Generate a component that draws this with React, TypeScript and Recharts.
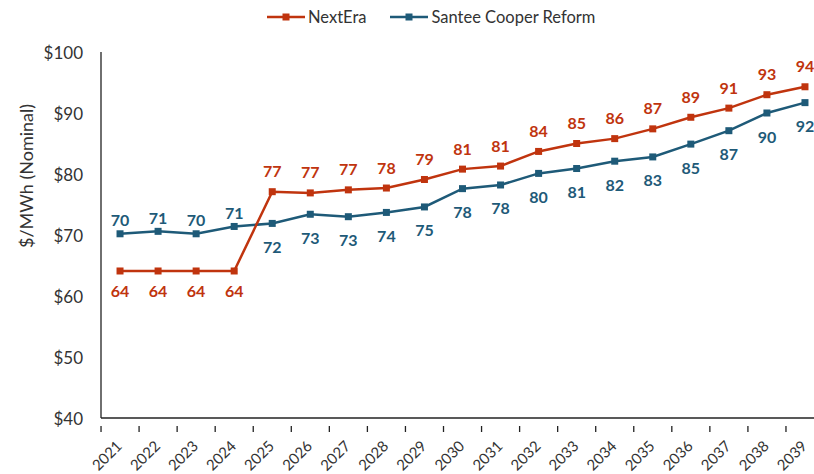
import { LineChart, Line, XAxis, YAxis, LabelList } from 'recharts';

const years = ['2021', '2022', '2023', '2024', '2025', '2026', '2027', '2028', '2029', '2030', '2031', '2032', '2033', '2034', '2035', '2036', '2037', '2038', '2039'];
const nextEra = [64.1, 64.1, 64.1, 64.1, 77.1, 76.9, 77.4, 77.7, 79.1, 80.8, 81.3, 83.7, 85.0, 85.8, 87.4, 89.3, 90.8, 93.0, 94.3];
const santee = [70.2, 70.6, 70.2, 71.4, 71.9, 73.4, 73.0, 73.7, 74.6, 77.6, 78.2, 80.1, 80.9, 82.1, 82.8, 84.9, 87.1, 90.0, 91.7];
const yTicks = [40, 50, 60, 70, 80, 90, 100];

const data = years.map((year, i) => ({ i, year, nextEra: nextEra[i], santee: santee[i] }));

const RED = '#C0340E';
const BLUE = '#1E5A78';
const FONT = 'Lato, "Open Sans", sans-serif';
const HALF_STEP = 19;

const SquareDot = (color: string) => (props: any) => {
  const { cx, cy, index } = props;
  if (cx == null || cy == null) return <g key={index} />;
  return <rect key={index} x={cx - 3.5} y={cy - 3.5} width={7} height={7} fill={color} />;
};

const makeLabel = (color: string, key: 'nextEra' | 'santee', upOff: number, downOff: number) => (props: any) => {
  const { x, y, index, value } = props;
  const other = key === 'nextEra' ? santee[index] : nextEra[index];
  const above = value >= other;
  return (
    <text
      x={x}
      y={above ? y - upOff : y + downOff}
      textAnchor="middle"
      dominantBaseline="central"
      fill={color}
      fontFamily={FONT}
      fontWeight={700}
      fontSize={16}
    >
      {Math.round(value)}
    </text>
  );
};

const XTick = (props: any) => {
  const { x, y, payload } = props;
  const tx = x + 3;
  const ty = y + 21;
  return (
    <g>
      <line x1={x - HALF_STEP} y1={y} x2={x - HALF_STEP} y2={y + 6} stroke="#222" strokeWidth={1.3} />
      <text
        x={tx}
        y={ty}
        transform={`rotate(-45, ${tx}, ${ty})`}
        textAnchor="end"
        fill="#333"
        fontFamily={FONT}
        fontSize={15}
      >
        {years[payload.value]}
      </text>
    </g>
  );
};

const YTick = (props: any) => {
  const { y, payload } = props;
  return (
    <text x={83} y={y} textAnchor="end" dominantBaseline="central" fill="#333" fontFamily={FONT} fontSize={17}>
      ${payload.value}
    </text>
  );
};

const LegendItem = ({ color, label }: { color: string; label: string }) => (
  <span style={{ display: 'inline-flex', alignItems: 'center', marginRight: 24 }}>
    <svg width={38} height={10} style={{ marginRight: 3 }}>
      <line x1={0} y1={5} x2={38} y2={5} stroke={color} strokeWidth={2.5} />
      <rect x={15.5} y={1.5} width={7} height={7} fill={color} />
    </svg>
    <span>{label}</span>
  </span>
);

export default function App() {
  return (
    <div style={{ position: 'absolute', left: 0, top: 0, width: 814, height: 474, overflow: 'hidden', background: '#fff' }}>
      <div
        style={{
          position: 'absolute',
          top: 7,
          left: 267,
          fontFamily: FONT,
          fontSize: 16.5,
          color: '#333',
          display: 'flex',
          whiteSpace: 'nowrap',
        }}
      >
        <LegendItem color={RED} label="NextEra" />
        <LegendItem color={BLUE} label="Santee Cooper Reform" />
      </div>
      <LineChart width={824} height={474} data={data} margin={{ top: 52, right: 0, left: 0, bottom: 0 }}>
        <XAxis
          dataKey="i"
          type="number"
          domain={[-0.5, 18.5]}
          ticks={data.map((d) => d.i)}
          interval={0}
          height={56}
          tickLine={false}
          axisLine={{ stroke: '#222', strokeWidth: 1.3 }}
          tick={<XTick />}
        />
        <YAxis
          type="number"
          domain={[40, 100]}
          ticks={yTicks}
          width={101}
          tickLine={false}
          axisLine={{ stroke: '#222', strokeWidth: 1.3 }}
          tick={<YTick />}
          label={{
            content: () => (
              <text
                x={26}
                y={176}
                transform="rotate(-90, 26, 176)"
                textAnchor="middle"
                dominantBaseline="central"
                fill="#333"
                fontFamily={FONT}
                fontSize={18}
              >
                $/MWh (Nominal)
              </text>
            ),
          }}
        />
        <Line
          dataKey="santee"
          stroke={BLUE}
          strokeWidth={2.5}
          dot={SquareDot(BLUE)}
          activeDot={false}
          isAnimationActive={false}
        >
          <LabelList dataKey="santee" content={makeLabel(BLUE, 'santee', 14, 23)} />
        </Line>
        <Line
          dataKey="nextEra"
          stroke={RED}
          strokeWidth={2.5}
          dot={SquareDot(RED)}
          activeDot={false}
          isAnimationActive={false}
        >
          <LabelList dataKey="nextEra" content={makeLabel(RED, 'nextEra', 21, 20)} />
        </Line>
      </LineChart>
    </div>
  );
}
